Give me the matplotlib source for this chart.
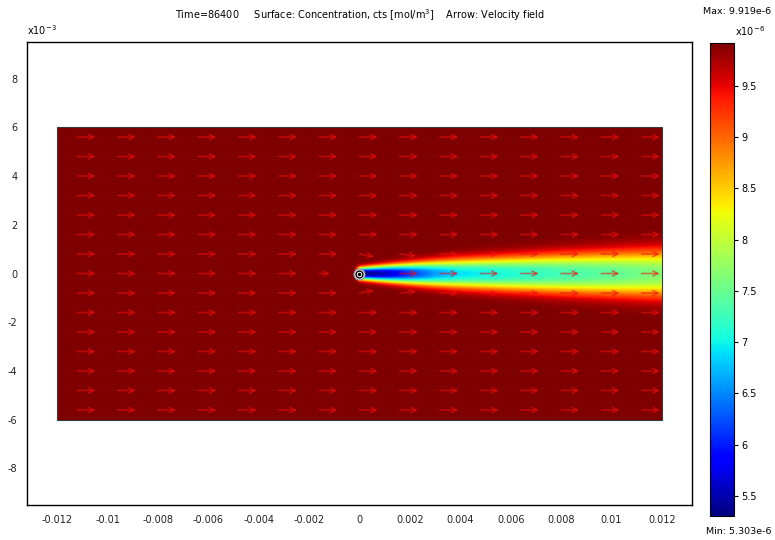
import numpy as np
import matplotlib
matplotlib.use('Agg')
import matplotlib.pyplot as plt
from matplotlib.patches import Rectangle

plt.rcParams['font.family'] = 'DejaVu Sans'
plt.rcParams['font.size'] = 7

# concentration range (units of 1e-6 mol/m^3)
c_max = 9.919
c_min = 5.303

# plume: position, concentration, spread
plume_x = [-0.0002, 0.0, 0.0005, 0.001, 0.002, 0.003, 0.004, 0.006, 0.008, 0.010, 0.012]
plume_c = [c_max, 5.303, 5.4, 5.55, 6.1, 6.6, 6.9, 7.1, 7.3, 7.45, 7.65]
plume_w = [0.00013, 0.00017, 0.0002, 0.00023, 0.00029, 0.00035, 0.0004, 0.00047, 0.00054, 0.0006, 0.00066]

# domain
dom_x = [-0.012, 0.012]
dom_y = [-0.006, 0.006]

# velocity arrows: 15 x 15 grid, uniform flow in +x
arrow_cols = np.linspace(-0.0112, 0.0112, 15)
arrow_rows = np.linspace(-0.0056, 0.0056, 15)
u_flow = 1.0
# arrows disturbed by the well at the origin: (row, col) -> (u, v)
well_arrows = {
    (7, 6): (0.6, 0.0),
    (7, 7): (0.0, 0.0),
    (8, 7): (0.8, -0.15),
    (6, 7): (0.8, 0.15),
    (8, 8): (0.9, -0.1),
    (6, 8): (0.9, 0.1),
}

xticks = [-0.012, -0.01, -0.008, -0.006, -0.004, -0.002, 0, 0.002, 0.004, 0.006, 0.008, 0.01, 0.012]
xtick_labels = ['-0.012', '-0.01', '-0.008', '-0.006', '-0.004', '-0.002', '0',
                '0.002', '0.004', '0.006', '0.008', '0.01', '0.012']
yticks = [-0.008, -0.006, -0.004, -0.002, 0, 0.002, 0.004, 0.006, 0.008]
ytick_labels = ['-8', '-6', '-4', '-2', '0', '2', '4', '6', '8']
cbar_ticks = [5.5, 6, 6.5, 7, 7.5, 8, 8.5, 9, 9.5]

# build the concentration surface
gx = np.linspace(dom_x[0], dom_x[1], 800)
gy = np.linspace(dom_y[0], dom_y[1], 400)
X, Y = np.meshgrid(gx, gy)
cl = np.interp(X, plume_x, plume_c, left=c_max)
wd = np.interp(X, plume_x, plume_w, left=plume_w[0])
C = c_max - (c_max - cl) * np.exp(-(np.abs(Y) / (np.sqrt(2) * wd)) ** 2.4)

fig = plt.figure(figsize=(7.75, 5.4), dpi=100)
ax = fig.add_axes([27 / 775, 1 - 505 / 540, 665 / 775, 463 / 540])
im = ax.imshow(C, extent=[dom_x[0], dom_x[1], dom_y[0], dom_y[1]], origin='lower',
               cmap='jet', vmin=c_min, vmax=c_max, aspect='auto', interpolation='bilinear')
ax.add_patch(Rectangle((dom_x[0], dom_y[0]), dom_x[1] - dom_x[0], dom_y[1] - dom_y[0],
                       fill=False, ec='#3a3a3a', lw=0.8))

# arrows
L = 0.00072
for i, yy in enumerate(arrow_rows):
    for j, xx in enumerate(arrow_cols):
        u, v = well_arrows.get((i, j), (u_flow, 0.0))
        if u == 0 and v == 0:
            continue
        ax.annotate('', xy=(xx + u * L, yy + v * L), xytext=(xx, yy),
                    arrowprops=dict(arrowstyle='->', color=(0.95, 0.05, 0.05, 0.55),
                                    lw=1.2, shrinkA=0, shrinkB=0, mutation_scale=9))

# well marker
ax.plot(0, 0, 'o', ms=8, mfc='white', mec='#888888', mew=0.8, zorder=5)
ax.plot(0, 0, 'o', ms=5, mfc='white', mec='black', mew=1.0, zorder=6)
ax.plot(0, 0, 'o', ms=1.5, mfc='black', mec='black', zorder=7)

ax.set_xlim(-0.0132, 0.0132)
ax.set_ylim(-0.0095, 0.0095)
ax.set_xticks(xticks)
ax.set_xticklabels(xtick_labels)
ax.set_yticks(yticks)
ax.set_yticklabels(ytick_labels)
ax.tick_params(length=0, pad=7, labelsize=7, colors='#222222')
for s in ax.spines.values():
    s.set_linewidth(1.0)
    s.set_color('black')

fig.text(27 / 775, 1 - 37 / 540, r'x10$^{-3}$', fontsize=7, ha='left', va='bottom')
fig.text(360 / 775, 1 - 15 / 540,
         r'Time=86400     Surface: Concentration, cts [mol/m$^3$]    Arrow: Velocity field',
         fontsize=7, ha='center', va='center')

# colour bar
cax = fig.add_axes([710 / 775, 1 - 516 / 540, 24 / 775, 473 / 540])
cb = fig.colorbar(im, cax=cax, ticks=cbar_ticks)
cb.ax.set_yticklabels(['5.5', '6', '6.5', '7', '7.5', '8', '8.5', '9', '9.5'])
cb.ax.tick_params(length=3, width=0.8, labelsize=7, pad=2, direction='out')
cb.outline.set_linewidth(0.8)
fig.text(771 / 775, 1 - 12 / 540, 'Max: 9.919e-6', fontsize=6.8, ha='right', va='center')
fig.text(735 / 775, 1 - 38 / 540, r'x10$^{-6}$', fontsize=7, ha='left', va='bottom')
fig.text(771 / 775, 1 - 532 / 540, 'Min: 5.303e-6', fontsize=6.8, ha='right', va='center')

fig.savefig('out.png', dpi=100)
